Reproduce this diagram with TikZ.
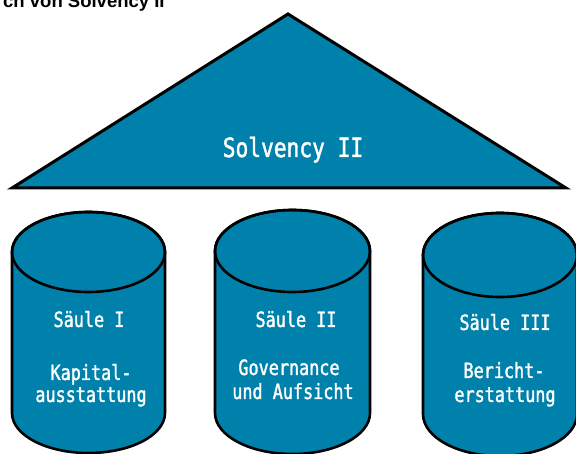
\documentclass[tikz,border=0pt]{standalone}
\usepackage{fontspec}
\newfontfamily\pillarfont[FakeStretch=0.8,FakeBold=1.5]{DejaVu Sans Mono}
\newfontfamily\titlefont{Liberation Sans}
\definecolor{pillarblue}{HTML}{0081AB}
\tikzset{
  shapefill/.style={fill=pillarblue, draw=black, line width=2.6pt, line join=round},
  lbl/.style={text=white, anchor=base, inner sep=0pt, font=\pillarfont\fontsize{21}{22}\selectfont},
  biglbl/.style={text=white, anchor=base, inner sep=0pt, font=\pillarfont\fontsize{26.5}{28}\selectfont},
  titletext/.style={anchor=base west, inner sep=0pt, font=\titlefont\bfseries\fontsize{18.5}{20}\selectfont}
}
\newcommand{\pillarshape}[5]{% cx, cyTop, cyBot, rx, ry
  \filldraw[shapefill] (#1-#4,#2) -- (#1-#4,#3)
    arc[start angle=180, end angle=0, x radius=#4, y radius=#5]
    -- (#1+#4,#2)
    arc[start angle=0, end angle=-180, x radius=#4, y radius=#5] -- cycle;
  \draw[shapefill, fill=none] (#1,#2) ellipse[x radius=#4, y radius=#5];
}
\begin{document}
\begin{tikzpicture}[x=1pt,y=-1pt]
\useasboundingbox (0,0) rectangle (576,454);
% title (cut off at top, as in the reference)
\node[titletext] (title) at (3,8) {ch von Solvency II};
% roof
\coordinate (apex) at (288,14);
\coordinate (baseR) at (566,188);
\coordinate (baseL) at (12,188);
\filldraw[shapefill, line width=3pt, line join=miter] (apex) -- (baseR) -- (baseL) -- cycle;
\node[biglbl] (solv) at (293,157) {Solvency II};
% pillars
\pillarshape{88.5}{252}{413}{76.5}{40}
\pillarshape{292.5}{251}{413}{77.5}{41}
\pillarshape{500}{255}{414}{77}{42}
% pillar texts
\node[lbl] (s1) at (89,327) {Säule I};
\node[lbl] (s1a) at (91,380) {Kapital-};
\node[lbl] (s1b) at (91,402) {ausstattung};
\node[lbl] (s2) at (296,327) {Säule II};
\node[lbl] (s2a) at (289,375) {Governance};
\node[lbl] (s2b) at (293,399) {und Aufsicht};
\node[lbl] (s3) at (505,330) {Säule III};
\node[lbl] (s3a) at (504,378) {Bericht-};
\node[lbl] (s3b) at (505,402) {erstattung};
\end{tikzpicture}
\end{document}
